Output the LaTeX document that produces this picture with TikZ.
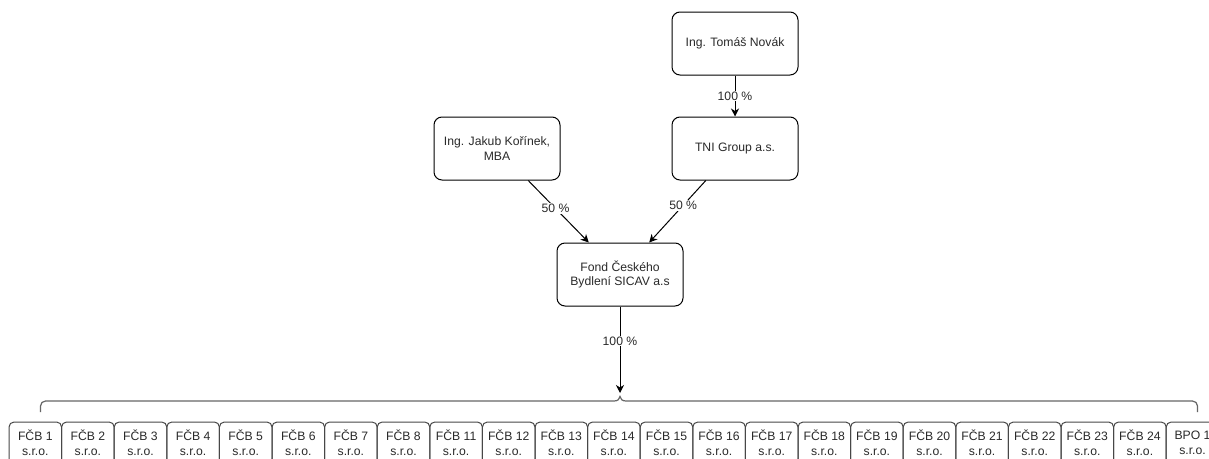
\documentclass[tikz,border=0pt]{standalone}
\usepackage{fontspec}
\setmainfont{Liberation Sans}
\usetikzlibrary{arrows.meta}
\definecolor{txt}{HTML}{2A2A2A}
\definecolor{edge}{HTML}{666666}
\tikzset{
  topbox/.style={draw=black, line width=1pt, rounded corners=8pt, minimum width=126pt, minimum height=63pt, align=center, text=txt, font=\fontsize{12.2}{14.4}\selectfont, inner sep=2pt},
  subbox/.style={draw=edge!70!black, line width=1pt, rounded corners=5pt, minimum width=52.6pt, minimum height=42pt, align=center, text=txt, font=\fontsize{12.2}{14.8}\selectfont, inner sep=0pt},
  conn/.style={draw=black, line width=1pt, -{Stealth[length=8pt,width=8pt,inset=2.5pt]}},
  pct/.style={fill=white, text=txt, font=\fontsize{12.2}{14.4}\selectfont, inner sep=1pt},
  bracestyle/.style={draw=edge, line width=1.2pt}
}
\begin{document}
\begin{tikzpicture}[x=1pt,y=-1pt]
\useasboundingbox (0,0) rectangle (1209,458);
\fill[white] (0,0) rectangle (1209,458);
\node[topbox] (novak) at (735,43.5) {Ing. Tomáš Novák};
\node[topbox] (tni) at (735,148.5) {TNI Group a.s.};
\node[topbox] (korinek) at (497,148.5) {Ing. Jakub Kořínek,\\MBA};
\node[topbox] (fond) at (620,274.5) {Fond Českého\\Bydlení SICAV a.s};
\draw[conn] (novak) -- node[pct] {100 \%} (tni);
\draw[conn] (korinek) -- node[pct, pos=0.45] {50 \%} (fond);
\draw[conn] (tni) -- node[pct, pos=0.4] {50 \%} (fond);
\coordinate (tip) at (620,393);
\draw[conn] (fond) -- node[pct, pos=0.4] {100 \%} (tip);
% brace
\draw[bracestyle] (40.5,412) -- (40.5,406) arc[start angle=180, end angle=270, radius=5] -- (614,401)
  .. controls (618,401) and (619.5,399) .. (620,396.5)
  .. controls (620.5,399) and (622,401) .. (626,401) -- (1192.5,401)
  arc[start angle=270, end angle=360, radius=5] -- (1197.5,412);
% subsidiaries
\foreach \lab [count=\i from 0] in {FČB 1,FČB 2,FČB 3,FČB 4,FČB 5,FČB 6,FČB 7,FČB 8,FČB 11,FČB 12,FČB 13,FČB 14,FČB 15,FČB 16,FČB 17,FČB 18,FČB 19,FČB 20,FČB 21,FČB 22,FČB 23,FČB 24,BPO 1} {
  \node[subbox] (s\i) at ({35.3+52.6*\i},443) {\lab\\s.r.o.};
}
\end{tikzpicture}
\end{document}
